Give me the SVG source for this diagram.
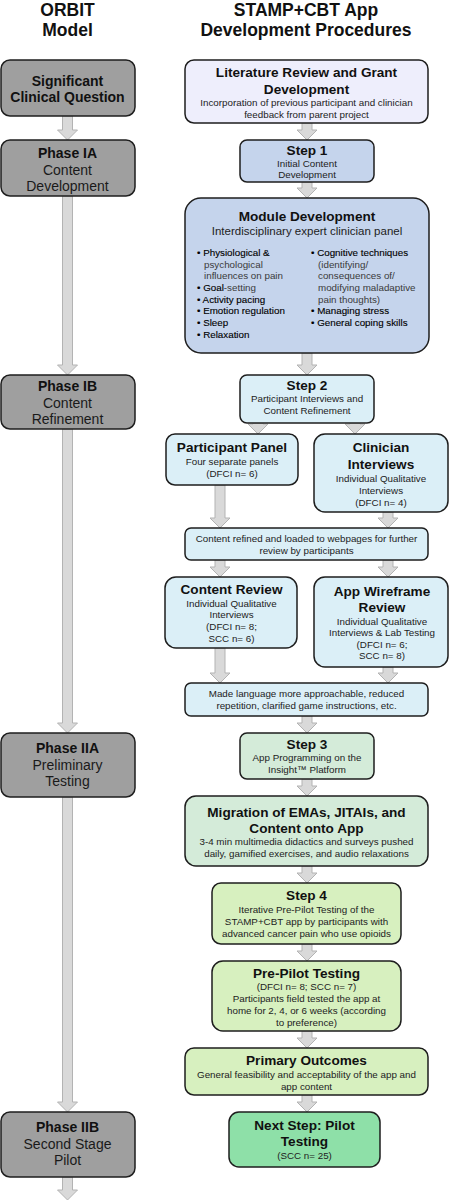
<svg xmlns="http://www.w3.org/2000/svg" width="449" height="1200" viewBox="0 0 449 1200">
<style>
text{font-family:"Liberation Sans",Arial,sans-serif;text-anchor:middle;fill:#222}
.h{font-size:17.5px;font-weight:bold;fill:#111}
.t{font-size:13.6px;font-weight:bold;fill:#111}
.lt{font-size:14px;font-weight:bold;fill:#111}
.lr{font-size:14px;fill:#1a1a1a}
.s{font-size:9.8px}
.m{font-size:11.5px}
.bl{font-size:9.8px;text-anchor:start;fill:#3a3a3a}
.d{fill:#000;stroke:#000;stroke-width:0.12}
rect{stroke:#1e1e1e;stroke-width:1.5}
.g{fill:#9f9f9f}
.lav{fill:#eeeefc}
.blu{fill:#c5d4ec}
.cy{fill:#dbeff7}
.mi{fill:#d4ebd9}
.lg{fill:#d7f0bf}
.ng{fill:#8ee0a8}
.a{fill:#d9d9d9;stroke:#b3b3b3;stroke-width:1}
</style>
<g id="titles">
<text class="h" x="67.5" y="16">ORBIT</text>
<text class="h" x="67.5" y="36">Model</text>
<text class="h" x="306" y="16">STAMP+CBT App</text>
<text class="h" x="306" y="36">Development Procedures</text>
</g>
<g id="connectors">
<path class="a" d="M62.5,116 L72.5,116 L72.5,130 L77.5,130 L67.5,140 L57.5,130 L62.5,130 Z"/>
<path class="a" d="M62.5,196 L72.5,196 L72.5,365 L77.5,365 L67.5,375 L57.5,365 L62.5,365 Z"/>
<path class="a" d="M62.5,429 L72.5,429 L72.5,723 L77.5,723 L67.5,733 L57.5,723 L62.5,723 Z"/>
<path class="a" d="M62.5,797 L72.5,797 L72.5,1102 L77.5,1102 L67.5,1112 L57.5,1102 L62.5,1102 Z"/>
<path class="a" d="M62.5,1177 L72.5,1177 L72.5,1190 L77.5,1190 L67.5,1200 L57.5,1190 L62.5,1190 Z"/>
<path class="a" d="M302,123 L312,123 L312,130 L317,130 L307,140 L297,130 L302,130 Z"/>
<path class="a" d="M302,182 L312,182 L312,188 L317,188 L307,198 L297,188 L302,188 Z"/>
<path class="a" d="M302,353 L312,353 L312,365 L317,365 L307,375 L297,365 L302,365 Z"/>
<path class="a" d="M253,423 L263,423 L263,424 L268,424 L258,434 L248,424 L253,424 Z"/>
<path class="a" d="M350,423 L360,423 L360,424 L365,424 L355,434 L345,424 L350,424 Z"/>
<path class="a" d="M215,485 L225,485 L225,518 L230,518 L220,528 L210,518 L215,518 Z"/>
<path class="a" d="M383,512 L393,512 L393,518 L398,518 L388,528 L378,518 L383,518 Z"/>
<path class="a" d="M215,560 L225,560 L225,567 L230,567 L220,577 L210,567 L215,567 Z"/>
<path class="a" d="M383,560 L393,560 L393,567 L398,567 L388,577 L378,567 L383,567 Z"/>
<path class="a" d="M215,648 L225,648 L225,673 L230,673 L220,683 L210,673 L215,673 Z"/>
<path class="a" d="M383,667 L393,667 L393,673 L398,673 L388,683 L378,673 L383,673 Z"/>
<path class="a" d="M302,716 L312,716 L312,723 L317,723 L307,733 L297,723 L302,723 Z"/>
<path class="a" d="M302,779 L312,779 L312,786 L317,786 L307,796 L297,786 L302,786 Z"/>
<path class="a" d="M302,866 L312,866 L312,873 L317,873 L307,883 L297,873 L302,873 Z"/>
<path class="a" d="M302,944 L312,944 L312,951 L317,951 L307,961 L297,951 L302,951 Z"/>
<path class="a" d="M302,1031 L312,1031 L312,1038 L317,1038 L307,1048 L297,1038 L302,1038 Z"/>
<path class="a" d="M302,1095 L312,1095 L312,1102 L317,1102 L307,1112 L297,1102 L302,1102 Z"/>
</g>
<g id="orbit-question">
<rect class="g" x="1" y="60" width="134" height="56" rx="9"/>
<text class="lt" x="67.5" y="85.5">Significant</text>
<text class="lt" x="67.5" y="101.5">Clinical Question</text>
</g>
<g id="orbit-phase-ia">
<rect class="g" x="1" y="140" width="134" height="56" rx="9"/>
<text class="lt" x="67.5" y="158">Phase IA</text>
<text class="lr" x="67.5" y="174.5">Content</text>
<text class="lr" x="67.5" y="191">Development</text>
</g>
<g id="orbit-phase-ib">
<rect class="g" x="1" y="375" width="134" height="54" rx="9"/>
<text class="lt" x="67.5" y="391">Phase IB</text>
<text class="lr" x="67.5" y="407.5">Content</text>
<text class="lr" x="67.5" y="424">Refinement</text>
</g>
<g id="orbit-phase-iia">
<rect class="g" x="1" y="733" width="134" height="64" rx="9"/>
<text class="lt" x="67.5" y="753">Phase IIA</text>
<text class="lr" x="67.5" y="769.5">Preliminary</text>
<text class="lr" x="67.5" y="786">Testing</text>
</g>
<g id="orbit-phase-iib">
<rect class="g" x="1" y="1112" width="134" height="65" rx="9"/>
<text class="lt" x="67.5" y="1132">Phase IIB</text>
<text class="lr" x="67.5" y="1148.5">Second Stage</text>
<text class="lr" x="67.5" y="1165">Pilot</text>
</g>
<g id="lit-review">
<rect class="lav" x="185" y="60" width="243" height="63" rx="9"/>
<text class="t" x="306.5" y="77">Literature Review and Grant</text>
<text class="t" x="306.5" y="94">Development</text>
<text class="s" x="306.5" y="106">Incorporation of previous participant and clinician</text>
<text class="s" x="306.5" y="118">feedback from parent project</text>
</g>
<g id="step1">
<rect class="blu" x="240" y="140" width="134" height="42" rx="7"/>
<text class="t" x="307" y="155">Step 1</text>
<text class="s" x="307" y="166.5">Initial Content</text>
<text class="s" x="307" y="178">Development</text>
</g>
<g id="module-development">
<rect class="blu" x="185" y="198" width="244" height="155" rx="16"/>
<text class="t" x="307" y="221">Module Development</text>
<text class="m" x="307" y="235">Interdisciplinary expert clinician panel</text>
<text class="bl"><tspan class="d" x="197" y="256">• Physiological &amp;</tspan><tspan x="204" y="267.5">psychological</tspan><tspan x="204" y="279">influences on pain</tspan><tspan class="d" x="197" y="291">• Goal</tspan><tspan>-setting</tspan><tspan class="d" x="197" y="302.5">• Activity pacing</tspan><tspan class="d" x="197" y="314">• Emotion regulation</tspan><tspan class="d" x="197" y="326">• Sleep</tspan><tspan class="d" x="197" y="337.5">• Relaxation</tspan></text>
<text class="bl"><tspan class="d" x="311" y="256">• Cognitive techniques</tspan><tspan x="318" y="267.5">(identifying/</tspan><tspan x="318" y="279">consequences of/</tspan><tspan x="318" y="291">modifying maladaptive</tspan><tspan x="318" y="302.5">pain thoughts)</tspan><tspan class="d" x="311" y="314">• Managing stress</tspan><tspan class="d" x="311" y="326">• General coping skills</tspan></text>
</g>
<g id="step2">
<rect class="cy" x="240" y="375" width="134" height="48" rx="7"/>
<text class="t" x="307" y="390">Step 2</text>
<text class="s" x="307" y="402">Participant Interviews and</text>
<text class="s" x="307" y="413.5">Content Refinement</text>
</g>
<g id="participant-panel">
<rect class="cy" x="166" y="434" width="132" height="51" rx="9"/>
<text class="t" x="232" y="452">Participant Panel</text>
<text class="s" x="232" y="465">Four separate panels</text>
<text class="s" x="232" y="477">(DFCI n= 6)</text>
</g>
<g id="clinician-interviews">
<rect class="cy" x="314" y="434" width="134" height="78" rx="11"/>
<text class="t" x="381" y="452">Clinician</text>
<text class="t" x="381" y="469">Interviews</text>
<text class="s" x="381" y="482">Individual Qualitative</text>
<text class="s" x="381" y="494">Interviews</text>
<text class="s" x="381" y="506">(DFCI n= 4)</text>
</g>
<g id="content-refined">
<rect class="cy" x="185" y="528" width="243" height="32" rx="6"/>
<text class="s" x="306.5" y="541.5">Content refined and loaded to webpages for further</text>
<text class="s" x="306.5" y="553.5">review by participants</text>
</g>
<g id="content-review">
<rect class="cy" x="165" y="577" width="132" height="71" rx="11"/>
<text class="t" x="231.5" y="593.5">Content Review</text>
<text class="s" x="231.5" y="606.5">Individual Qualitative</text>
<text class="s" x="231.5" y="618">Interviews</text>
<text class="s" x="231.5" y="630">(DFCI n= 8;</text>
<text class="s" x="231.5" y="641.5">SCC n= 6)</text>
</g>
<g id="app-wireframe-review">
<rect class="cy" x="314" y="577" width="134" height="90" rx="11"/>
<text class="t" x="382" y="596">App Wireframe</text>
<text class="t" x="382" y="612">Review</text>
<text class="s" x="382" y="624.5">Individual Qualitative</text>
<text class="s" x="382" y="636">Interviews &amp; Lab Testing</text>
<text class="s" x="382" y="647.5">(DFCI n= 6;</text>
<text class="s" x="382" y="659">SCC n= 8)</text>
</g>
<g id="language-changes">
<rect class="cy" x="185" y="683" width="243" height="33" rx="6"/>
<text class="s" x="306.5" y="697">Made language more approachable, reduced</text>
<text class="s" x="306.5" y="709">repetition, clarified game instructions, etc.</text>
</g>
<g id="step3">
<rect class="mi" x="240" y="733" width="134" height="46" rx="7"/>
<text class="t" x="307" y="749">Step 3</text>
<text class="s" x="307" y="760.5">App Programming on the</text>
<text class="s" x="307" y="772.5">Insight™ Platform</text>
</g>
<g id="migration">
<rect class="mi" x="185" y="796" width="243" height="70" rx="11"/>
<text class="t" x="306.5" y="816.5">Migration of EMAs, JITAIs, and</text>
<text class="t" x="306.5" y="833">Content onto App</text>
<text class="s" x="306.5" y="845">3-4 min multimedia didactics and surveys pushed</text>
<text class="s" x="306.5" y="857">daily, gamified exercises, and audio relaxations</text>
</g>
<g id="step4">
<rect class="lg" x="212" y="883" width="189" height="61" rx="9"/>
<text class="t" x="306.5" y="900">Step 4</text>
<text class="s" x="306.5" y="913">Iterative Pre-Pilot Testing of the</text>
<text class="s" x="306.5" y="925">STAMP+CBT app by participants with</text>
<text class="s" x="306.5" y="937">advanced cancer pain who use opioids</text>
</g>
<g id="pre-pilot-testing">
<rect class="lg" x="212" y="961" width="189" height="70" rx="11"/>
<text class="t" x="306.5" y="978">Pre-Pilot Testing</text>
<text class="s" x="306.5" y="990">(DFCI n= 8; SCC n= 7)</text>
<text class="s" x="306.5" y="1002">Participants field tested the app at</text>
<text class="s" x="306.5" y="1014">home for 2, 4, or 6 weeks (according</text>
<text class="s" x="306.5" y="1026">to preference)</text>
</g>
<g id="primary-outcomes">
<rect class="lg" x="185" y="1048" width="243" height="47" rx="9"/>
<text class="t" x="306.5" y="1065">Primary Outcomes</text>
<text class="s" x="306.5" y="1077.5">General feasibility and acceptability of the app and</text>
<text class="s" x="306.5" y="1089.5">app content</text>
</g>
<g id="next-step">
<rect class="ng" x="229" y="1112" width="151" height="55" rx="10"/>
<text class="t" x="304.5" y="1130">Next Step: Pilot</text>
<text class="t" x="304.5" y="1146">Testing</text>
<text class="s" x="304.5" y="1159">(SCC n= 25)</text>
</g>
</svg>
